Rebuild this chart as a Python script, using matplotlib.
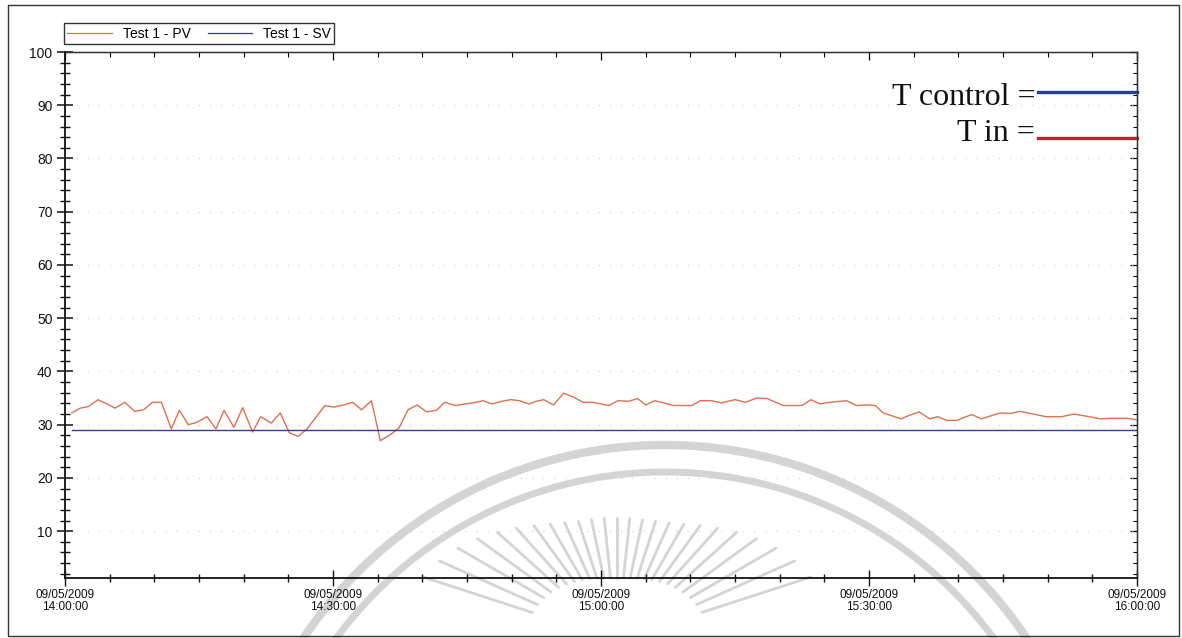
import datetime as dt
import matplotlib
matplotlib.use('Agg')
import matplotlib.pyplot as plt
import matplotlib.dates as mdates
import matplotlib.patches as mpatches
import matplotlib.transforms as mtransforms
import numpy as np

# ---- data ----
start = dt.datetime(2009, 5, 9, 14, 0, 0)
end = dt.datetime(2009, 5, 9, 16, 0, 0)

# minutes after 14:00
pv_minutes = [0.75, 1.7, 2.6, 3.7, 4.7, 5.6, 6.7, 7.8, 8.8, 9.8,
              10.8, 11.9, 12.8, 13.8, 14.7, 15.9, 16.9, 17.8, 18.9, 19.9,
              21.0, 21.9, 23.1, 24.1, 25.1, 26.1, 27.1, 28.0, 29.1, 30.1,
              31.2, 32.2, 33.2, 34.3, 35.3, 36.4, 37.4, 38.4, 39.4, 40.5,
              41.6, 42.5, 43.7, 44.8, 45.7, 46.8, 47.8, 48.9, 49.9, 50.9,
              51.9, 52.8, 53.6, 54.7, 55.8, 56.9, 58.0, 59.1, 60.9, 61.9,
              63.1, 64.1, 65.0, 66.0, 67.0, 68.1, 70.2, 71.1, 72.4, 73.5,
              75.0, 76.2, 77.4, 78.6, 80.4, 82.5, 83.5, 84.5, 85.6, 87.5,
              88.6, 89.7, 90.7, 91.6, 92.5, 93.6, 94.6, 95.6, 96.8, 97.7,
              98.7, 99.8, 101.5, 102.6, 103.7, 104.7, 105.8, 106.9, 108.4, 109.8,
              111.6, 112.9, 114.0, 115.9, 117.4, 118.9, 120.0]

# Test 1 - PV (process value, T in)
pv_values = [32.2, 33.1, 33.4, 34.7, 33.9, 33.1, 34.2, 32.5, 32.8, 34.2,
             34.2, 29.2, 32.7, 30.0, 30.4, 31.5, 29.2, 32.7, 29.5, 33.2,
             28.6, 31.5, 30.3, 32.2, 28.5, 27.8, 29.2, 31.2, 33.6, 33.3,
             33.7, 34.2, 32.8, 34.5, 27.0, 28.1, 29.4, 32.8, 33.7, 32.4,
             32.7, 34.2, 33.6, 33.9, 34.1, 34.5, 33.9, 34.4, 34.7, 34.5,
             33.9, 34.4, 34.7, 33.7, 35.9, 35.2, 34.2, 34.2, 33.6, 34.5,
             34.4, 34.9, 33.7, 34.5, 34.1, 33.6, 33.6, 34.5, 34.5, 34.1,
             34.7, 34.2, 35.0, 34.9, 33.6, 33.6, 34.7, 33.9, 34.2, 34.5,
             33.6, 33.7, 33.6, 32.2, 31.7, 31.1, 31.8, 32.4, 31.1, 31.5,
             30.8, 30.8, 31.9, 31.1, 31.7, 32.2, 32.1, 32.5, 32.0, 31.5,
             31.5, 32.0, 31.7, 31.1, 31.2, 31.2, 30.9]

# Test 1 - SV (set value, T control) held constant
sv_values = [29.0] * len(pv_minutes)

legend_labels = ['Test 1 - PV', 'Test 1 - SV']
pv_color = '#e0704f'
sv_color = '#3b3b8a'

times = [start + dt.timedelta(minutes=m) for m in pv_minutes]

W, H = 1182, 638
fig = plt.figure(figsize=(W / 100, H / 100), dpi=100)
fig.patch.set_facecolor('white')

# helper transform: image pixel coords (y down) -> figure
px = mtransforms.Affine2D().scale(1 / W, -1 / H).translate(0, 1) + fig.transFigure

# faint scanned watermark (university logo) behind everything
wm = '#d4d4d4'
th = np.linspace(0, np.pi, 400)
for r, lw in [(435, 6), (408, 5)]:
    fig.add_artist(plt.Line2D(665 + r * np.cos(th), 880 - r * np.sin(th),
                              transform=px, color=wm, lw=lw, zorder=0))
for ang in np.linspace(18, 162, 25):
    a = np.radians(ang)
    r_out = 122 + 95 * abs(np.cos(a)) ** 3
    r_in = 62 + 30 * abs(np.cos(a)) ** 2
    fig.add_artist(plt.Line2D([617 + r_in * np.cos(a), 617 + r_out * np.cos(a)],
                              [640 - r_in * np.sin(a), 640 - r_out * np.sin(a)],
                              transform=px, color=wm, lw=2.0, zorder=0,
                              solid_capstyle='round'))

# outer frame of the scan
fig.add_artist(mpatches.Rectangle((8, 636), 1171, -631, transform=px, fill=False,
                                  ec='#333333', lw=1.0, zorder=1))

ax = fig.add_axes([65 / W, 1 - 578 / H, (1137 - 65) / W, (578 - 52) / H])
ax.patch.set_alpha(0)

ax.plot(times, pv_values, color=pv_color, lw=1.0, label=legend_labels[0])
ax.plot(times, sv_values, color=sv_color, lw=1.0, label=legend_labels[1])

ax.set_xlim(start, end)
ax.set_ylim(1.2, 100)

# axes styling
for s in ['left', 'bottom']:
    ax.spines[s].set_linewidth(1.3)
    ax.spines[s].set_color('#111111')
for s in ['top', 'right']:
    ax.spines[s].set_linewidth(0.9)
    ax.spines[s].set_color('#333333')

ax.yaxis.set_minor_locator(plt.MultipleLocator(2))
ax.set_yticks(range(10, 101, 10))
ax.xaxis.set_major_locator(mdates.MinuteLocator(byminute=[0, 30]))
ax.xaxis.set_minor_locator(mdates.MinuteLocator(byminute=range(0, 60, 5)))
ax.xaxis.set_major_formatter(mdates.DateFormatter('%d/%m/%Y\n%H:%M:%S'))

ax.tick_params(axis='y', which='major', direction='inout', length=12, width=1.1,
               labelsize=10, pad=3, colors='#111111')
ax.tick_params(axis='y', which='minor', direction='inout', length=6.5, width=1.0,
               colors='#111111')
ax.tick_params(axis='x', which='major', direction='inout', length=12, width=1.0,
               labelsize=8.5, pad=2, colors='#111111')
ax.tick_params(axis='x', which='minor', direction='inout', length=6, width=1.0,
               colors='#111111')
for lab in ax.get_xticklabels() + ax.get_yticklabels():
    lab.set_fontfamily('Liberation Sans')
for lab in ax.get_xticklabels():
    lab.set_linespacing(1.0)

# right / top inward ticks
sec_y = ax.secondary_yaxis('right')
sec_y.yaxis.set_major_locator(plt.MultipleLocator(10))
sec_y.yaxis.set_minor_locator(plt.MultipleLocator(2))
sec_y.tick_params(which='major', direction='in', length=5, width=0.9, labelright=False)
sec_y.tick_params(which='minor', direction='in', length=3, width=0.8)
sec_y.spines['right'].set_linewidth(0.9)
sec_x = ax.secondary_xaxis('top')
sec_x.xaxis.set_major_locator(mdates.MinuteLocator(byminute=[0, 30]))
sec_x.xaxis.set_minor_locator(mdates.MinuteLocator(byminute=range(0, 60, 5)))
sec_x.tick_params(which='major', direction='in', length=6, width=0.9, labeltop=False)
sec_x.tick_params(which='minor', direction='in', length=3.5, width=0.8)
sec_x.spines['top'].set_linewidth(0.9)

# faint dotted horizontal grid
ax.grid(axis='y', which='major', color='#c8c8c8', lw=0.8, linestyle=(0, (1, 9)))

# legend box above the plot
leg = ax.legend(loc='lower left', bbox_to_anchor=(64 / W, 1 - 44 / H),
                bbox_transform=fig.transFigure, ncol=2, frameon=True, fancybox=False,
                borderaxespad=0, borderpad=0.25, handlelength=3.2, handletextpad=0.8,
                columnspacing=1.2, prop={'family': 'Liberation Sans', 'size': 10})
leg.get_frame().set_edgecolor('black')
leg.get_frame().set_linewidth(1.0)
for h in leg.get_lines():
    h.set_linewidth(0.9)

# hand-drawn key in the top-right corner
ax.text(0.905, 0.900, 'T control =', transform=ax.transAxes, ha='right', va='baseline',
        fontsize=23, family='Liberation Serif', color='#111111')
ax.text(0.905, 0.830, 'T in =', transform=ax.transAxes, ha='right', va='baseline',
        fontsize=23, family='Liberation Serif', color='#111111')
ax.plot([0.908, 1.0], [0.924, 0.924], transform=ax.transAxes, color='#1f3f9a', lw=2.4,
        clip_on=False)
ax.plot([0.908, 1.0], [0.837, 0.837], transform=ax.transAxes, color='#c8202a', lw=2.4,
        clip_on=False)

fig.savefig('out.png', dpi=100)
